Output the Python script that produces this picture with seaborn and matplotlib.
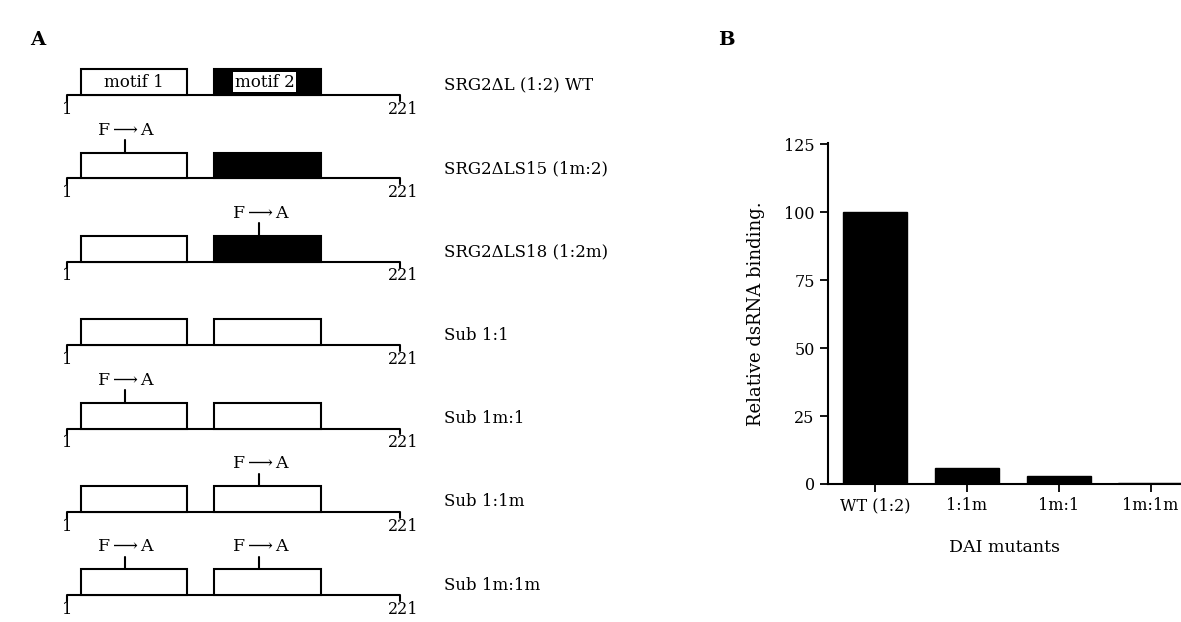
import matplotlib
matplotlib.use("Agg")
import matplotlib.pyplot as plt
import seaborn as sns
from matplotlib.patches import Rectangle

sns.set_theme(style="ticks")
plt.rcParams['font.family'] = ['DejaVu Serif']
plt.rcParams['mathtext.fontset'] = 'dejavuserif'
plt.rcParams['text.color'] = 'black'
plt.rcParams['axes.labelcolor'] = 'black'

# panel A: constructs
constructs = ["SRG2\u0394L (1:2) WT", "SRG2\u0394LS15 (1m:2)", "SRG2\u0394LS18 (1:2m)",
              "Sub 1:1", "Sub 1m:1", "Sub 1:1m", "Sub 1m:1m"]
protein_len = 221
motif1 = (10, 80)
motif2 = (98, 169)
mut_sites = (39, 128)
motif2_dark = [True, True, True, False, False, False, False]
mut_motif1 = [False, True, False, False, True, False, True]
mut_motif2 = [False, False, True, False, False, True, True]

# panel B: binding
mutants = ["WT (1:2)", "1:1m", "1m:1", "1m:1m"]
binding = [100, 6, 3, 0.3]

W, H = 1181, 622
fig = plt.figure(figsize=(W / 100, H / 100), dpi=100)

# ---- panel A ----
axA = fig.add_axes([0, 0, 700 / W, 1])
axA.set_xlim(-43.3, 419.2)
axA.set_ylim(6.32, -1.14)
axA.axis("off")
lw = 1.5
h = 0.31
for i, name in enumerate(constructs):
    axA.plot([1, protein_len], [i, i], color="black", lw=lw, solid_capstyle="butt")
    for x in (1, protein_len):
        axA.plot([x, x], [i, i + 0.07], color="black", lw=lw)
    axA.text(1, i + 0.17, "1", ha="center", va="center", fontsize=11.5)
    axA.text(protein_len + 2, i + 0.17, "221", ha="center", va="center", fontsize=11.5)
    for j, (start, end) in enumerate((motif1, motif2)):
        dark = (j == 1) and motif2_dark[i]
        axA.add_patch(Rectangle((start, i - h), end - start, h,
                                facecolor="black" if dark else "white",
                                edgecolor="black", lw=lw, zorder=3))
    for flag, pos in zip((mut_motif1[i], mut_motif2[i]), mut_sites):
        if flag:
            axA.plot([pos, pos], [i - h, i - h - 0.15], color="black", lw=lw)
            axA.text(pos + 1, i - 0.58, r"F$\longrightarrow$A", ha="center", va="center", fontsize=12.5)
    axA.text(250, i - 0.12, name, ha="left", va="center", fontsize=12)

axA.text(sum(motif1) / 2, -h / 2, "motif 1", ha="center", va="center", fontsize=12, zorder=4)
axA.text(sum(motif2) / 2 - 2, -h / 2, "motif 2", ha="center", va="center", fontsize=12, zorder=4,
         bbox=dict(facecolor="white", edgecolor="none", pad=1))

fig.text(30 / W, 1 - 40 / H, "A", fontsize=14, fontweight="bold", ha="left", va="center")
fig.text(718 / W, 1 - 40 / H, "B", fontsize=14, fontweight="bold", ha="left", va="center")

# ---- panel B ----
axB = fig.add_axes([828 / W, (H - 484) / H, (W - 828) / W, 341 / H])
sns.barplot(x=mutants, y=binding, color="black", saturation=1, width=0.7,
            edgecolor="black", ax=axB)
axB.set_xlim(-0.51, 3.33)
axB.set_ylim(0, 125.5)
axB.set_yticks([0, 25, 50, 75, 100, 125])
sns.despine(ax=axB)
for s in ("left", "bottom"):
    axB.spines[s].set_linewidth(lw)
    axB.spines[s].set_color("black")
axB.tick_params(axis="both", direction="out", length=6, width=1.3, labelsize=11.5, colors="black")
axB.set_xlabel("DAI mutants", fontsize=12.5, labelpad=18)
axB.set_ylabel("Relative dsRNA binding.", fontsize=13, labelpad=14)

fig.savefig("out.png", dpi=100)
